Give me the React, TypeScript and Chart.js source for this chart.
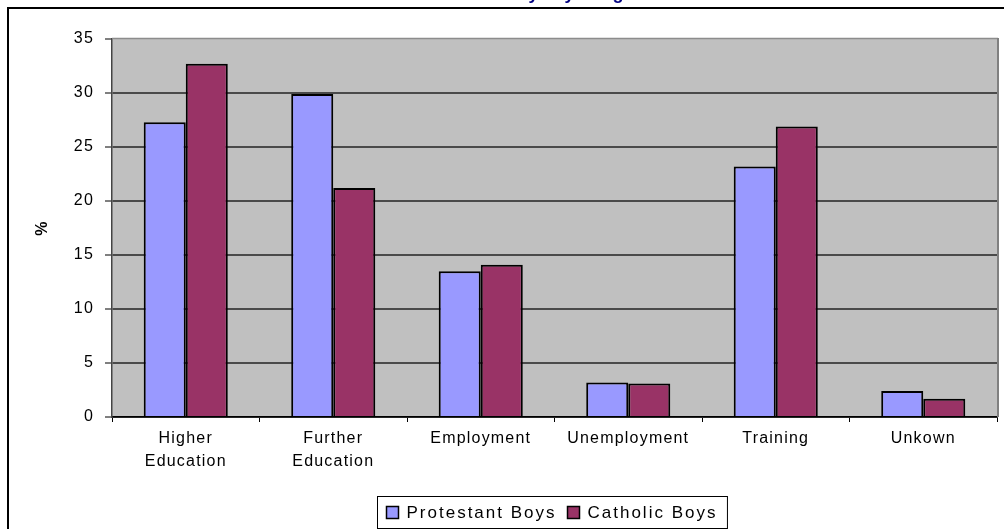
import React, { useEffect, useRef } from 'react';
import { Chart, registerables } from 'chart.js';

Chart.register(...registerables);

const categories: (string | string[])[] = [
  ['Higher', 'Education'],
  ['Further', 'Education'],
  'Employment',
  'Unemployment',
  'Training',
  'Unkown',
];
const protestantBoys = [27.3, 29.9, 13.5, 3.2, 23.2, 2.4];
const catholicBoys = [32.7, 21.2, 14.1, 3.1, 26.9, 1.7];
const seriesNames = ['Protestant Boys', 'Catholic Boys'];
const seriesColors = ['#9999FF', '#993366'];
const yMin = 0;
const yMax = 35;
const yStep = 5;
const yAxisTitle = '%';
const chartTitle = 'Destinations of Boys by Religion';

const FONT = "Arial, 'Liberation Sans', sans-serif";

const framePlugin = {
  id: 'frame',
  beforeDraw(chart: any) {
    const { ctx, width, height, chartArea: a } = chart;
    ctx.save();
    ctx.fillStyle = '#ffffff';
    ctx.fillRect(0, 0, width, height);
    // title (mostly above the visible page)
    ctx.fillStyle = '#000080';
    ctx.font = `bold 18px ${FONT}`;
    ctx.textAlign = 'center';
    ctx.textBaseline = 'alphabetic';
    ctx.fillText(chartTitle, 510, -1);
    // outer frame
    ctx.strokeStyle = '#000000';
    ctx.lineWidth = 2;
    ctx.strokeRect(8, 8, width + 20, height + 20);
    // plot background
    ctx.fillStyle = '#c0c0c0';
    ctx.fillRect(a.left, a.top, a.right - a.left, a.bottom - a.top);
    ctx.restore();
    try {
      (ctx as any).letterSpacing = '1.2px';
    } catch (e) {}
  },
  afterDraw(chart: any) {
    const { ctx, chartArea: a } = chart;
    ctx.save();
    // plot border top / right
    ctx.strokeStyle = '#8c8c8c';
    ctx.lineWidth = 1.5;
    ctx.beginPath();
    ctx.moveTo(a.left, a.top - 0.5);
    ctx.lineTo(a.right + 1, a.top - 0.5);
    ctx.stroke();
    ctx.strokeStyle = '#808080';
    ctx.lineWidth = 2;
    ctx.beginPath();
    ctx.moveTo(a.right + 1, a.top - 1);
    ctx.lineTo(a.right + 1, a.bottom);
    ctx.stroke();

    // legend
    try {
      (ctx as any).letterSpacing = '2px';
    } catch (e) {}
    ctx.font = `17px ${FONT}`;
    const sq = 12;
    const w1 = ctx.measureText(seriesNames[0]).width;
    const w2 = ctx.measureText(seriesNames[1]).width;
    const padL = 9;
    const gapSqText = 8;
    const gapItems = 11;
    const padR = 10;
    const boxW = padL + sq + gapSqText + w1 + gapItems + sq + gapSqText + w2 + padR;
    const boxH = 32;
    const cx = (a.left + a.right) / 2 - 3;
    const boxL = Math.round(cx - boxW / 2) + 0.5;
    const boxT = a.bottom + 79 + 0.5;
    ctx.fillStyle = '#ffffff';
    ctx.fillRect(boxL, boxT, boxW, boxH);
    ctx.strokeStyle = '#000000';
    ctx.lineWidth = 1;
    ctx.strokeRect(boxL, boxT, boxW, boxH);
    const midY = boxT + boxH / 2;
    let x = boxL + padL;
    const widths = [w1, w2];
    for (let i = 0; i < 2; i++) {
      ctx.fillStyle = seriesColors[i];
      ctx.fillRect(x, midY - sq / 2, sq, sq);
      ctx.lineWidth = 1.5;
      ctx.strokeStyle = '#000';
      ctx.strokeRect(x, midY - sq / 2, sq, sq);
      x += sq + gapSqText;
      ctx.fillStyle = '#000';
      ctx.textAlign = 'left';
      ctx.textBaseline = 'middle';
      ctx.fillText(seriesNames[i], x, midY + 1);
      x += widths[i] + gapItems;
    }
    ctx.restore();
  },
};

export default function App() {
  const ref = useRef<HTMLCanvasElement | null>(null);

  useEffect(() => {
    if (!ref.current) return;
    const chart = new Chart(ref.current, {
      type: 'bar',
      data: {
        labels: categories as any,
        datasets: [
          {
            label: seriesNames[0],
            data: protestantBoys,
            backgroundColor: seriesColors[0],
            borderColor: '#000000',
            borderWidth: 2,
            categoryPercentage: 0.57,
            barPercentage: 1,
          },
          {
            label: seriesNames[1],
            data: catholicBoys,
            backgroundColor: seriesColors[1],
            borderColor: '#000000',
            borderWidth: 2,
            categoryPercentage: 0.57,
            barPercentage: 1,
          },
        ],
      },
      options: {
        responsive: false,
        animation: false,
        devicePixelRatio: 1,
        layout: { padding: { left: 0, top: 39, right: 7, bottom: 52 } },
        plugins: {
          legend: { display: false },
          title: { display: false },
          tooltip: { enabled: false },
        },
        scales: {
          x: {
            grid: {
              display: true,
              drawOnChartArea: false,
              drawTicks: true,
              tickLength: 5,
              tickColor: '#000000',
              tickWidth: 1,
              offset: true,
            },
            border: { display: true, color: '#000000', width: 1.5 },
            ticks: {
              autoSkip: false,
              maxRotation: 0,
              minRotation: 0,
              color: '#000000',
              padding: 5,
              font: { family: FONT, size: 16, lineHeight: '23px' as any },
            },
            afterFit(scale: any) {
              scale.height = 60;
            },
          },
          y: {
            min: yMin,
            max: yMax,
            ticks: {
              stepSize: yStep,
              color: '#000000',
              padding: 11,
              font: { family: FONT, size: 16 },
            },
            grid: {
              color: (c: any) => (c.tick && c.tick.value === yMax ? 'rgba(0,0,0,0)' : '#4a4a4a'),
              lineWidth: 2,
              drawTicks: true,
              tickLength: 7,
              tickColor: '#000000',
              tickWidth: 1,
            },
            border: { display: true, color: '#444444', width: 1.5 },
            title: {
              display: true,
              text: yAxisTitle,
              color: '#000000',
              font: { family: FONT, size: 16, weight: 'bold' },
              padding: { top: 33, bottom: 0 },
            },
            afterFit(scale: any) {
              scale.width = 112;
            },
          },
        },
      },
      plugins: [framePlugin],
    });
    return () => chart.destroy();
  }, []);

  return (
    <canvas
      ref={ref}
      width={1004}
      height={529}
      style={{ position: 'fixed', left: 0, top: 0, width: 1004, height: 529, display: 'block' }}
    />
  );
}
